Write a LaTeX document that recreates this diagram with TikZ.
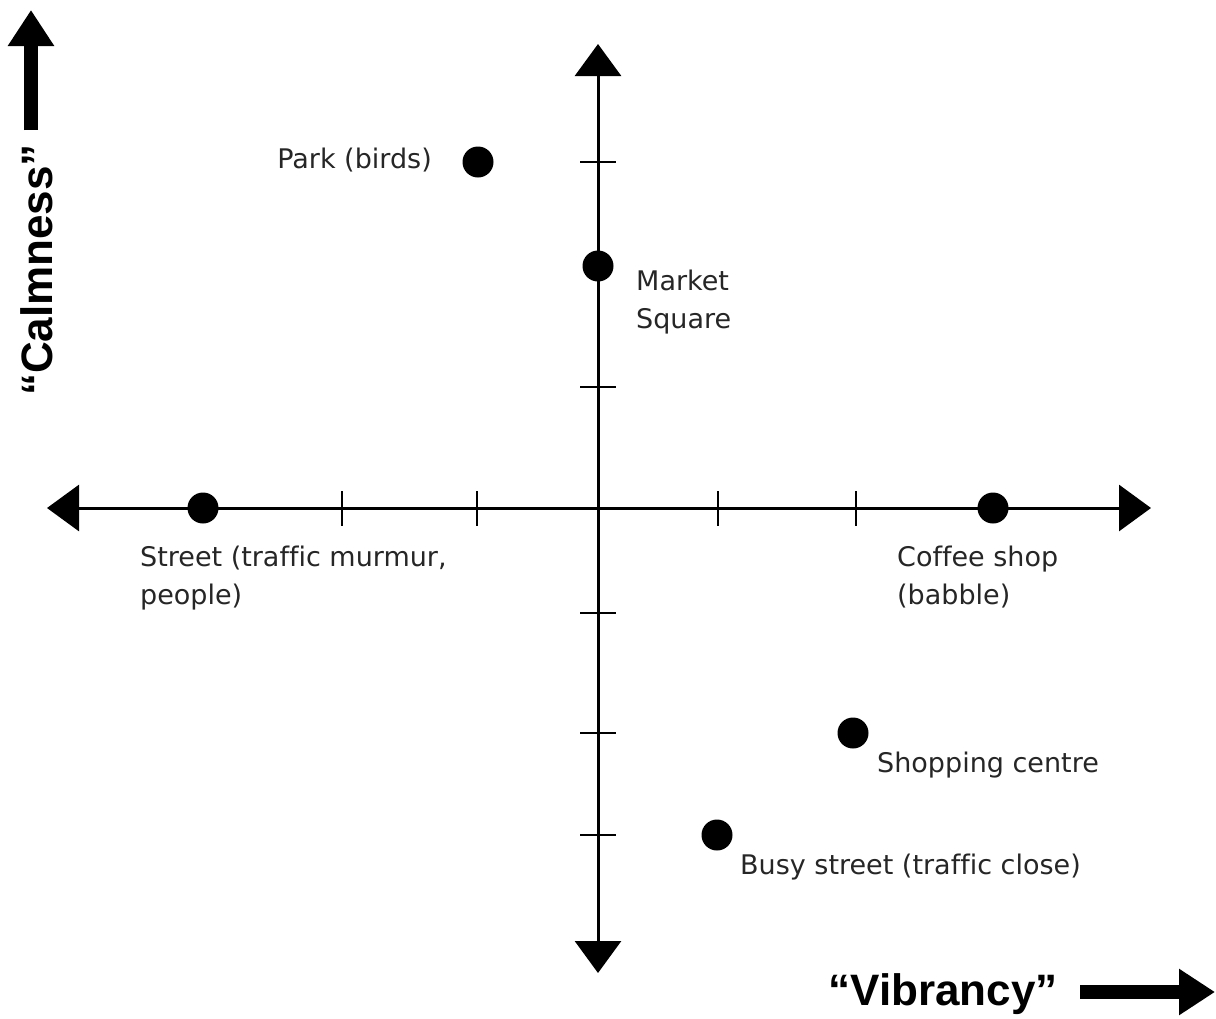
\documentclass[tikz,border=0pt]{standalone}
\usepackage{fontspec}
\setmainfont{Liberation Sans}
\newfontfamily\lblfont[Ligatures=NoCommon]{DejaVu Sans}
\usetikzlibrary{arrows.meta}
\begin{document}
\begin{tikzpicture}[x=1pt,y=-1pt,
  axisline/.style={line width=3pt,{Triangle[width=46pt,length=32pt]}-{Triangle[width=46pt,length=32pt]}},
  tickline/.style={line width=2pt},
  dot/.style={circle,fill=black,inner sep=0pt,minimum size=31pt},
  lbl/.style={inner sep=0pt,font=\lblfont\fontsize{27}{38}\selectfont,text=black!85,align=left},
  bigarrow/.style={line width=14pt,-{Triangle[width=44pt,length=36pt]}},
  bigtext/.style={inner sep=0pt,font=\fontsize{44}{50}\selectfont\bfseries}]
\useasboundingbox (0,0) rectangle (1216,1018);
% axes
\coordinate (top) at (598,44);
\coordinate (bot) at (598,973);
\coordinate (lft) at (47,508);
\coordinate (rgt) at (1151,508);
\draw[axisline] (bot) -- (top);
\draw[axisline] (lft) -- (rgt);
% ticks
\foreach \ty in {162,387,613,733,835}
  \draw[tickline] (580,\ty) -- (616,\ty);
\foreach \tx in {342,477,718,856}
  \draw[tickline] (\tx,491) -- (\tx,526);
% points
\node[dot] (park) at (478,162) {};
\node[dot] (market) at (598,266) {};
\node[dot] (street) at (203,508) {};
\node[dot] (coffee) at (993,508) {};
\node[dot] (shop) at (853,733) {};
\node[dot] (busy) at (717,835) {};
% labels
\node[lbl,anchor=base east] (parkl) at (432,168) {Park (birds)};
\node[lbl,anchor=base west] (marketl) at (636,328) {Market\\Square};
\node[lbl,anchor=base west] (streetl) at (140,604) {Street (traffic murmur,\\people)};
\node[lbl,anchor=base west] (coffeel) at (897,604) {Coffee shop\\(babble)};
\node[lbl,anchor=base west] (shopl) at (877,772) {Shopping centre};
\node[lbl,anchor=base west] (busyl) at (740,874) {Busy street (traffic close)};
% axis titles
\node[bigtext,rotate=90] (calm) at (37,270) {“Calmness”};
\coordinate (calmA) at (31,130);
\coordinate (calmB) at (31,10);
\draw[bigarrow] (calmA) -- (calmB);
\node[bigtext,anchor=base] (vib) at (943,1005) {“Vibrancy”};
\coordinate (vibA) at (1080,992);
\coordinate (vibB) at (1215,992);
\draw[bigarrow] (vibA) -- (vibB);
\end{tikzpicture}
\end{document}
